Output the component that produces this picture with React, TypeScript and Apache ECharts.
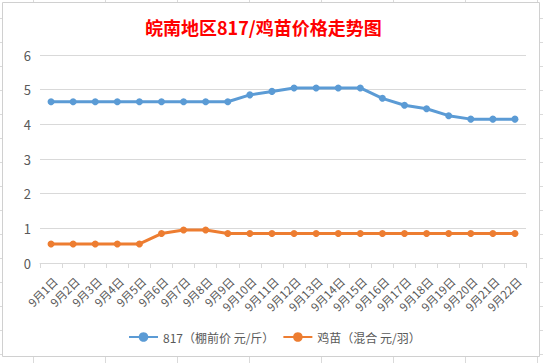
import React, { useEffect, useRef } from "react";
import * as echarts from "echarts";

const categories = [
  "9月1日", "9月2日", "9月3日", "9月4日", "9月5日", "9月6日", "9月7日", "9月8日",
  "9月9日", "9月10日", "9月11日", "9月12日", "9月13日", "9月14日", "9月15日", "9月16日",
  "9月17日", "9月18日", "9月19日", "9月20日", "9月21日", "9月22日",
];
const price817 = [
  4.65, 4.65, 4.65, 4.65, 4.65, 4.65, 4.65, 4.65, 4.65, 4.85, 4.95, 5.05,
  5.05, 5.05, 5.05, 4.75, 4.55, 4.45, 4.25, 4.15, 4.15, 4.15,
];
const chickPrice = [
  0.55, 0.55, 0.55, 0.55, 0.55, 0.85, 0.95, 0.95, 0.85, 0.85, 0.85, 0.85,
  0.85, 0.85, 0.85, 0.85, 0.85, 0.85, 0.85, 0.85, 0.85, 0.85,
];
const seriesNames = ["817（棚前价 元/斤）", "鸡苗（混合 元/羽）"];
const titleText = "皖南地区817/鸡苗价格走势图";

const FONT = "'Noto Sans CJK SC', 'Microsoft YaHei', sans-serif";
const GRID_GRAY = "#d9d9d9";
const TEXT_GRAY = "#595959";

export default function App() {
  const ref = useRef<HTMLDivElement>(null);
  useEffect(() => {
    if (!ref.current) return;
    const chart = echarts.init(ref.current, undefined, { renderer: "svg" });
    const sheetLines: any[] = [];
    const colX = [33, 105, 177, 249, 321, 393, 465, 537];
    colX.forEach((x) => {
      sheetLines.push({ type: "line", shape: { x1: x + 0.5, y1: 0, x2: x + 0.5, y2: 2 }, style: { stroke: "#dadada", lineWidth: 1 } });
      sheetLines.push({ type: "line", shape: { x1: x + 0.5, y1: 357, x2: x + 0.5, y2: 363 }, style: { stroke: "#dadada", lineWidth: 1 } });
    });
    [18, 42, 66, 90, 114, 138, 162, 186, 210, 234, 258, 282, 306, 330, 354].forEach((y) => {
      sheetLines.push({ type: "line", shape: { x1: 0, y1: y + 0.5, x2: 2, y2: y + 0.5 }, style: { stroke: "#dadada", lineWidth: 1 } });
      sheetLines.push({ type: "line", shape: { x1: 540, y1: y + 0.5, x2: 543, y2: y + 0.5 }, style: { stroke: "#dadada", lineWidth: 1 } });
    });
    chart.setOption({
      animation: false,
      backgroundColor: "#ffffff",
      textStyle: { fontFamily: FONT },
      title: {
        text: titleText,
        left: 140,
        top: 13,
        textStyle: { color: "#ff0000", fontSize: 18, fontWeight: "bold", fontFamily: FONT },
      },
      graphic: [
        {
          type: "rect",
          shape: { x: 2.5, y: 2.5, width: 537, height: 354 },
          style: { fill: "none", stroke: "#d0d0d0", lineWidth: 1 },
          z: 0,
        },
        ...sheetLines,
      ],
      legend: {
        left: 128,
        top: 331,
        padding: 0,
        itemGap: 8,
        itemWidth: 29,
        itemHeight: 12,
        textStyle: { color: TEXT_GRAY, fontSize: 12, fontFamily: FONT },
        data: seriesNames,
      },
      grid: {
        left: 40,
        right: 17,
        top: 55,
        bottom: 100,
        outerBoundsMode: "none",
      },
      xAxis: {
        type: "category",
        data: categories,
        boundaryGap: true,
        axisLine: { lineStyle: { color: GRID_GRAY, width: 1 } },
        axisTick: { show: true, length: 5, lineStyle: { color: GRID_GRAY } },
        axisLabel: {
          rotate: 45,
          interval: 0,
          margin: 12,
          align: "right",
          verticalAlign: "top",
          color: TEXT_GRAY,
          fontSize: 11.5,
          fontFamily: FONT,
        },
      },
      yAxis: {
        type: "value",
        min: 0,
        max: 6,
        interval: 1,
        axisLine: { show: false },
        axisTick: { show: false },
        axisLabel: { color: TEXT_GRAY, fontSize: 13, margin: 9, fontFamily: FONT },
        splitLine: { lineStyle: { color: GRID_GRAY, width: 1 } },
      },
      series: [
        {
          name: seriesNames[0],
          type: "line",
          data: price817,
          symbol: "circle",
          symbolSize: 7,
          lineStyle: { width: 3, color: "#5b9bd5" },
          itemStyle: { color: "#5b9bd5" },
        },
        {
          name: seriesNames[1],
          type: "line",
          data: chickPrice,
          symbol: "circle",
          symbolSize: 7,
          lineStyle: { width: 3, color: "#ed7d31" },
          itemStyle: { color: "#ed7d31" },
        },
      ],
    });
    return () => chart.dispose();
  }, []);
  return (
    <div
      ref={ref}
      style={{ position: "fixed", left: 0, top: 0, width: 543, height: 363 }}
    />
  );
}
